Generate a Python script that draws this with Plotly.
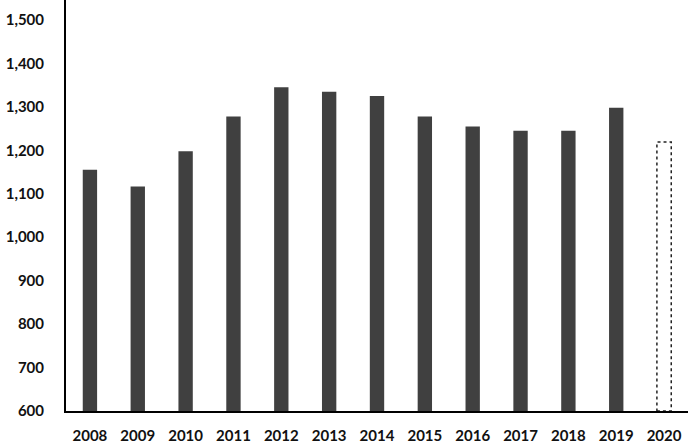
import plotly.graph_objects as go

years = ["2008", "2009", "2010", "2011", "2012", "2013", "2014", "2015", "2016", "2017", "2018", "2019", "2020"]
values = [1155, 1117, 1198, 1278, 1345, 1335, 1325, 1278, 1255, 1245, 1245, 1298, 1219]
y_ticks = [600, 700, 800, 900, 1000, 1100, 1200, 1300, 1400, 1500]
y_min = 600
y_max = 1546
bar_width = 0.3

actual_years = years[:-1]
actual_values = values[:-1]
proj_year = years[-1]
proj_value = values[-1]
proj_idx = len(years) - 1

fig = go.Figure()
fig.add_trace(go.Bar(x=actual_years, y=actual_values, width=bar_width,
                     marker=dict(color="#404040", line=dict(width=0))))
fig.add_trace(go.Bar(x=[proj_year], y=[proj_value], width=bar_width,
                     marker=dict(color="rgba(255,255,255,0)", line=dict(width=0))))
fig.add_shape(type="rect", xref="x", yref="y",
              x0=proj_idx - bar_width / 2, x1=proj_idx + bar_width / 2,
              y0=y_min, y1=proj_value,
              line=dict(color="#222222", width=1.5, dash="dot"),
              fillcolor="rgba(0,0,0,0)")

tf = dict(family="Lato, sans-serif", size=15, color="#111111", weight="bold")
fig.update_layout(
    width=697, height=448,
    margin=dict(l=66, r=9, t=0, b=37, pad=0),
    paper_bgcolor="white", plot_bgcolor="white",
    showlegend=False, barmode="overlay",
    xaxis=dict(type="category", categoryorder="array", categoryarray=years,
               showline=True, linecolor="black", linewidth=2,
               showgrid=False, ticks="", ticklabelstandoff=10, automargin=False,
               tickfont=tf),
    yaxis=dict(range=[y_min, y_max], tickvals=y_ticks,
               ticktext=[f"{v:,}" for v in y_ticks],
               showline=True, linecolor="black", linewidth=2,
               showgrid=False, zeroline=False, ticks="", ticklabelstandoff=17,
               automargin=False, tickfont=tf),
)

fig.write_html("out.html", config={"displayModeBar": False},
               post_script="document.body.style.margin='0px';document.body.style.overflow='hidden';")
